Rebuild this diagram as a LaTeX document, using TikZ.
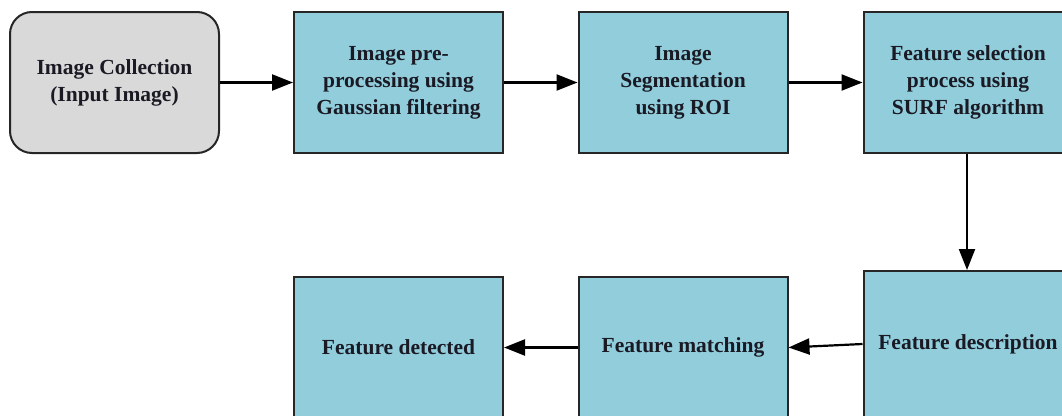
\documentclass[tikz,border=0pt]{standalone}
\usepackage{fontspec}
\setmainfont{Liberation Serif}
\usetikzlibrary{arrows.meta}
\definecolor{boxblue}{HTML}{92CDDC}
\definecolor{boxgray}{HTML}{D9D9D9}
\definecolor{txt}{HTML}{1A1A24}
\begin{document}
\begin{tikzpicture}[x=1pt,y=-1pt,
  stage/.style={draw=black!85, line width=2pt, fill=boxblue, minimum width=209pt, minimum height=141pt,
    align=center, font=\bfseries\fontsize{21.5}{27}\selectfont, text=txt, inner sep=0pt},
  startbox/.style={stage, fill=boxgray, rounded corners=22pt},
  conn/.style={line width=2.2pt, -{Triangle[length=21pt,width=16pt]}}]
\useasboundingbox (0,0) rectangle (1062,415);
\clip (0,0) rectangle (1062,415);
\node[startbox] (a) at (114.5,82.5) {Image Collection\\(Input Image)};
\node[stage] (b) at (398.5,82.5) {Image pre-\\processing using\\Gaussian filtering};
\node[stage] (c) at (683,82.5) {Image\\Segmentation\\using ROI};
\node[stage] (d) at (968,82.5) {Feature selection\\process using\\SURF algorithm};
\node[stage, minimum height=146pt] (e) at (968,344) {Feature description};
\node[stage] (f) at (683,347.5) {Feature matching};
\node[stage] (g) at (398.5,347.5) {Feature detected};
\draw[conn] (a) -- (b);
\draw[conn] (b) -- (c);
\draw[conn] (c) -- (d);
\draw[conn] (d.south -| 967,0) -- (e.north -| 967,0);
\draw[conn] (e.west) -- (f.east);
\draw[conn] (f) -- (g);
\end{tikzpicture}
\end{document}
